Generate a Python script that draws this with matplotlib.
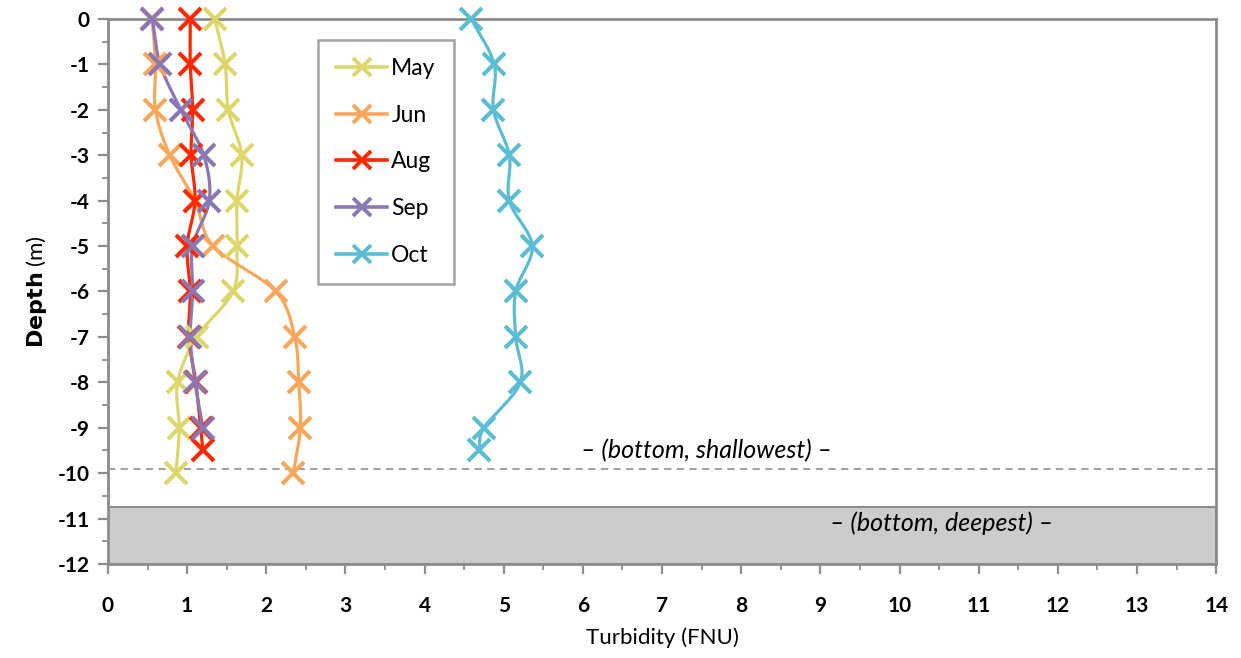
import numpy as np
import matplotlib
matplotlib.use('Agg')
import matplotlib.pyplot as plt
from matplotlib.ticker import MultipleLocator

# Turbidity profiles (FNU) by depth (m)
may_depth = [0, -1, -2, -3, -4, -5, -6, -7, -8, -9, -10]
may_turb = [1.35, 1.48, 1.52, 1.69, 1.63, 1.63, 1.58, 1.12, 0.88, 0.90, 0.86]

jun_depth = [0, -1, -2, -3, -4, -5, -6, -7, -8, -9, -10]
jun_turb = [0.56, 0.60, 0.60, 0.78, 1.10, 1.33, 2.12, 2.36, 2.41, 2.43, 2.34]

aug_depth = [0, -1, -2, -3, -4, -5, -6, -7, -8, -9, -9.5]
aug_turb = [1.04, 1.04, 1.07, 1.05, 1.10, 1.00, 1.04, 1.02, 1.11, 1.17, 1.20]

sep_depth = [0, -1, -2, -3, -4, -5, -6, -7, -8, -9]
sep_turb = [0.56, 0.66, 0.92, 1.21, 1.28, 1.07, 1.07, 1.04, 1.10, 1.20]

oct_depth = [0, -1, -2, -3, -4, -5, -6, -7, -8, -9, -9.5]
oct_turb = [4.59, 4.88, 4.87, 5.07, 5.07, 5.36, 5.15, 5.15, 5.21, 4.75, 4.69]

months = ['May', 'Jun', 'Aug', 'Sep', 'Oct']
colors = ['#DCD66B', '#F9A85B', '#FF2800', '#8A78B4', '#5BBDD4']

bottom_shallowest = -9.9
bottom_deepest = -10.75


def smooth(x, y, n=20):
    """ Catmull-Rom curve through the points, like Excel's smoothed line. """
    p = np.column_stack([x, y]).astype(float)
    if len(p) < 3:
        return p[:, 0], p[:, 1]
    ext = np.vstack([2 * p[0] - p[1], p, 2 * p[-1] - p[-2]])
    out = []
    t = np.linspace(0, 1, n)[:, None]
    for i in range(1, len(ext) - 2):
        p0, p1, p2, p3 = ext[i - 1], ext[i], ext[i + 1], ext[i + 2]
        seg = 0.5 * ((2 * p1) + (-p0 + p2) * t
                     + (2 * p0 - 5 * p1 + 4 * p2 - p3) * t ** 2
                     + (-p0 + 3 * p1 - 3 * p2 + p3) * t ** 3)
        out.append(seg)
    out = np.vstack(out)
    return out[:, 0], out[:, 1]


plt.rcParams['font.family'] = ['Lato', 'DejaVu Sans']

fig = plt.figure(figsize=(12.41, 6.58), dpi=100)
ax = fig.add_axes([0.087, 0.143, 0.893, 0.828])

ax.set_xlim(0, 14)
ax.set_ylim(-12, 0)

# Bottom markers
ax.axhspan(-12, bottom_deepest, facecolor='#CCCCCC', edgecolor='#8C8C8C',
           linewidth=1.5, zorder=1)
ax.axhline(bottom_shallowest, color='#999999', linestyle='--', linewidth=1.3,
           dashes=(4, 3), zorder=1)
ax.text(7.56, -9.5, '\u2013 (bottom, shallowest) \u2013', style='italic',
        fontsize=18, ha='center', va='center')
ax.text(10.53, -11.1, '\u2013 (bottom, deepest) \u2013', style='italic',
        fontsize=18, ha='center', va='center')

series = [(may_turb, may_depth), (jun_turb, jun_depth), (aug_turb, aug_depth),
          (sep_turb, sep_depth), (oct_turb, oct_depth)]
for (xs, ys), name, c in zip(series, months, colors):
    sx, sy = smooth(xs, ys)
    ax.plot(sx, sy, color=c, linewidth=2.3, zorder=3, clip_on=False)
    ax.plot(xs, ys, linestyle='none', marker='x', markersize=16,
            markeredgewidth=3.0, color=c, zorder=4, clip_on=False)
    # proxy for legend
    ax.plot([], [], color=c, linewidth=2.6, marker='x', markersize=13,
            markeredgewidth=2.8, label=name)

leg = ax.legend(loc='upper left', bbox_to_anchor=(0.1895, 0.962),
                fontsize=16.5, frameon=True, fancybox=False,
                handlelength=2.2, handletextpad=0.2, labelspacing=1.12,
                borderpad=0.8, borderaxespad=0)
leg.get_frame().set_edgecolor('#8C8C8C')
leg.get_frame().set_linewidth(1.8)

# Axes styling
for side in ax.spines:
    ax.spines[side].set_color('#8C8C8C')
    ax.spines[side].set_linewidth(2.0)

ax.xaxis.set_major_locator(MultipleLocator(1))
ax.xaxis.set_minor_locator(MultipleLocator(0.5))
ax.yaxis.set_major_locator(MultipleLocator(1))
ax.yaxis.set_minor_locator(MultipleLocator(0.5))
ax.tick_params(axis='both', which='major', length=7,
               width=1.6, color='#8C8C8C', labelsize=15)
ax.tick_params(axis='both', which='minor', length=4,
               width=1.3, color='#8C8C8C')
ax.tick_params(axis='y', which='both', direction='out', pad=6)
ax.tick_params(axis='x', which='both', direction='out', pad=16)
ax.set_yticks(range(-12, 1))
ax.set_yticklabels([str(v) for v in range(-12, 1)])
for lab in ax.get_xticklabels() + ax.get_yticklabels():
    lab.set_fontweight('bold')

ax.set_xlabel('Turbidity (FNU)', fontsize=16, labelpad=8)
ax.set_ylabel(r'$\mathbf{Depth}$ (m)', fontsize=16, labelpad=6)

fig.savefig('out.png', dpi=100)
